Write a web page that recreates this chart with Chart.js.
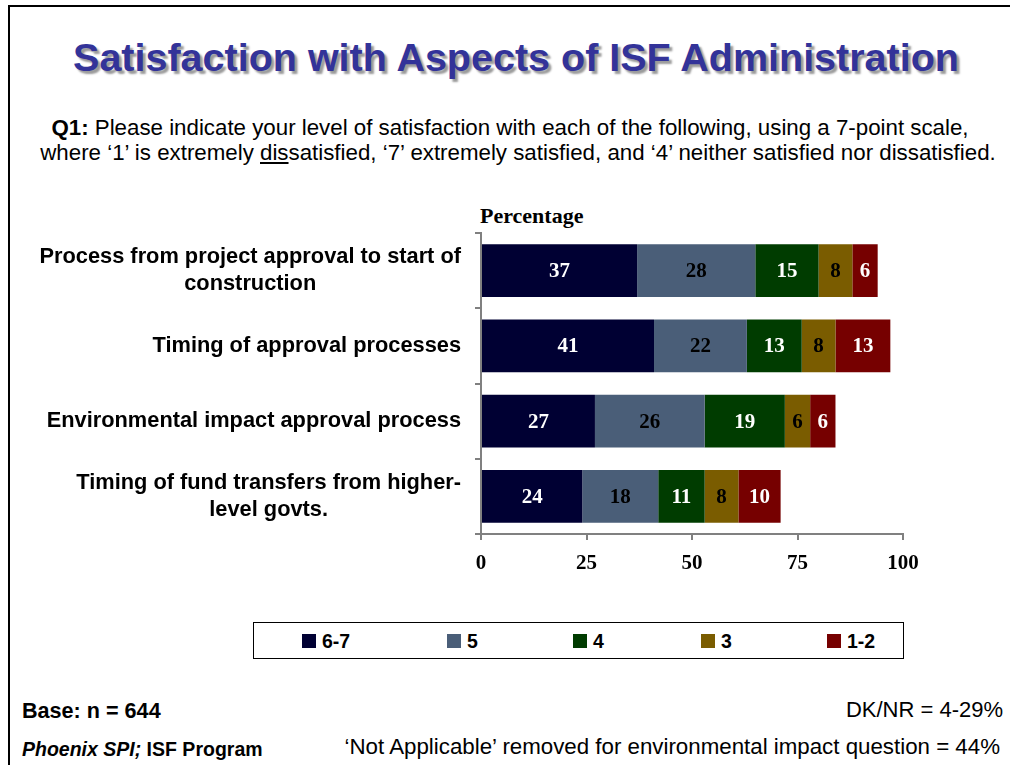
<!DOCTYPE html>
<html>
<head>
<meta charset="utf-8">
<script src="https://cdn.jsdelivr.net/npm/chart.js@4"></script>
<style>
  html, body { margin: 0; padding: 0; background: #fff; }
  body { width: 1010px; height: 765px; position: relative; overflow: hidden; font-family: Arial, "Liberation Sans", sans-serif; }
  .frame { position: absolute; left: 8px; top: 5px; width: 1100px; height: 900px; border-left: 2px solid #000; border-top: 2px solid #000; }
  .abs { position: absolute; white-space: nowrap; line-height: 1.15; }
  #title { left: 0; width: 1032px; top: 35px; text-align: center; font-weight: bold; font-size: 39.5px; color: #333399; text-shadow: 3px 3px 2px #9a9a9a; }
  .sub { left: 0; width: 1020px; text-align: center; font-size: 22.3px; color: #000; }
  #pct { left: 480px; top: 203px; font-family: "Liberation Serif", "Times New Roman", serif; font-weight: bold; font-size: 22px; }
  #chartWrap { position: absolute; left: 0; top: 195px; width: 1010px; height: 400px; }
  #legend { position: absolute; left: 253px; top: 622px; width: 649px; height: 35px; border: 1px solid #000; }
  .item { position: absolute; top: 8px; font-weight: bold; font-size: 19.5px; line-height: 20px; }
  .item span.sw { display: inline-block; width: 14px; height: 14px; margin-right: 6px; vertical-align: 0px; }
</style>
</head>
<body>
<div class="frame"></div>
<div id="title" class="abs">Satisfaction with Aspects of ISF Administration</div>
<div class="abs sub" style="top:115px"><b>Q1:</b> Please indicate your level of satisfaction with each of the following, using a 7-point scale,</div>
<div class="abs sub" style="top:140px; width:1036px">where ‘1’ is extremely <u>dis</u>satisfied, ‘7’ extremely satisfied, and ‘4’ neither satisfied nor dissatisfied.</div>
<div id="pct" class="abs">Percentage</div>
<div id="chartWrap"><canvas id="chart" width="1010" height="400"></canvas></div>
<div id="legend"></div>
<div class="abs" style="left:22px; top:699px; font-weight:bold; font-size:21.6px">Base: n = 644</div>
<div class="abs" style="right:7px; top:697px; font-size:22px">DK/NR = 4-29%</div>
<div class="abs" style="left:22px; top:738px; font-weight:bold; font-size:19.5px"><i>Phoenix SPI;</i> ISF Program</div>
<div class="abs" style="right:10px; top:734px; font-size:22.3px">‘Not Applicable’ removed for environmental impact question = 44%</div>

<script>
// Data
const categories = [
    ['Process from project approval to start of', 'construction'],
    ['Timing of approval processes'],
    ['Environmental impact approval process'],
    ['Timing of fund transfers from higher-', 'level govts.']
];
const seriesNames = ['6-7', '5', '4', '3', '1-2'];
const vals67 = [37, 41, 27, 24];
const vals5  = [28, 22, 26, 18];
const vals4  = [15, 13, 19, 11];
const vals3  = [8, 8, 6, 8];
const vals12 = [6, 13, 6, 10];
const xTicks = [0, 25, 50, 75, 100];

const seriesColors = ['#000033', '#4a5e78', '#003c00', '#7a5c00', '#760000'];
const labelColors  = ['#ffffff', '#000000', '#ffffff', '#000000', '#ffffff'];
const seriesValues = [vals67, vals5, vals4, vals3, vals12];

const serif = '"Liberation Serif", "Times New Roman", serif';
const sans = 'Arial, "Liberation Sans", sans-serif';

// HTML legend in a box
const legendEl = document.getElementById('legend');
const legendLeft = [48, 193, 319, 447, 573];
seriesNames.forEach(function(name, i) {
    const d = document.createElement('div');
    d.className = 'item';
    d.style.left = legendLeft[i] + 'px';
    d.innerHTML = '<span class="sw" style="background:' + seriesColors[i] + '"></span>' + name;
    legendEl.appendChild(d);
});

// values inside the bars
const barLabels = {
    id: 'barLabels',
    afterDatasetsDraw(chart) {
        const ctx = chart.ctx;
        ctx.save();
        ctx.font = 'bold 21px ' + serif;
        ctx.textAlign = 'center';
        ctx.textBaseline = 'middle';
        chart.data.datasets.forEach(function(ds, di) {
            const meta = chart.getDatasetMeta(di);
            ctx.fillStyle = labelColors[di];
            meta.data.forEach(function(bar, i) {
                const p = bar.getCenterPoint();
                ctx.fillText(String(ds.data[i]), p.x, p.y + 1);
            });
        });
        ctx.restore();
    }
};

// category labels: block right-aligned to the axis, lines centred inside the block
const catLabels = {
    id: 'catLabels',
    afterDraw(chart) {
        const ctx = chart.ctx;
        const yScale = chart.scales.y;
        const right = chart.chartArea.left - 20;
        const lineH = 27;
        ctx.save();
        ctx.font = 'bold 21.8px ' + sans;
        ctx.fillStyle = '#000';
        ctx.textAlign = 'center';
        ctx.textBaseline = 'middle';
        categories.forEach(function(lines, i) {
            const y = yScale.getPixelForValue(i);
            let w = 0;
            lines.forEach(function(l) { w = Math.max(w, ctx.measureText(l).width); });
            const cx = right - w / 2;
            const y0 = y - (lines.length - 1) * lineH / 2;
            lines.forEach(function(l, k) {
                ctx.fillText(l, cx, y0 + k * lineH);
            });
        });
        ctx.restore();
    }
};

new Chart(document.getElementById('chart'), {
    type: 'bar',
    data: {
        labels: categories.map(function(c) { return c.join(' '); }),
        datasets: seriesNames.map(function(name, i) {
            return {
                label: name,
                data: seriesValues[i],
                backgroundColor: seriesColors[i],
                borderWidth: 0,
                barPercentage: 0.7,
                categoryPercentage: 1.0
            };
        })
    },
    options: {
        indexAxis: 'y',
        responsive: false,
        animation: false,
        layout: { padding: { top: 38, right: 107, left: 0, bottom: 0 } },
        plugins: {
            legend: { display: false },
            tooltip: { enabled: false }
        },
        scales: {
            x: {
                stacked: true,
                min: 0,
                max: 100,
                afterBuildTicks: function(scale) {
                    scale.ticks = xTicks.map(function(v) { return { value: v }; });
                },
                afterFit: function(scale) { scale.height = 61; },
                border: { color: '#808080', width: 2 },
                grid: { drawOnChartArea: false, tickLength: 6, color: '#808080', lineWidth: 2 },
                ticks: {
                    color: '#000',
                    padding: 11,
                    maxRotation: 0,
                    font: { family: serif, size: 21, weight: 'bold' }
                }
            },
            y: {
                stacked: true,
                afterFit: function(scale) { scale.width = 481; },
                border: { color: '#808080', width: 2 },
                grid: { offset: true, drawOnChartArea: false, tickLength: 6, color: '#808080', lineWidth: 2 },
                ticks: { display: false }
            }
        }
    },
    plugins: [barLabels, catLabels]
});
</script>
</body>
</html>
